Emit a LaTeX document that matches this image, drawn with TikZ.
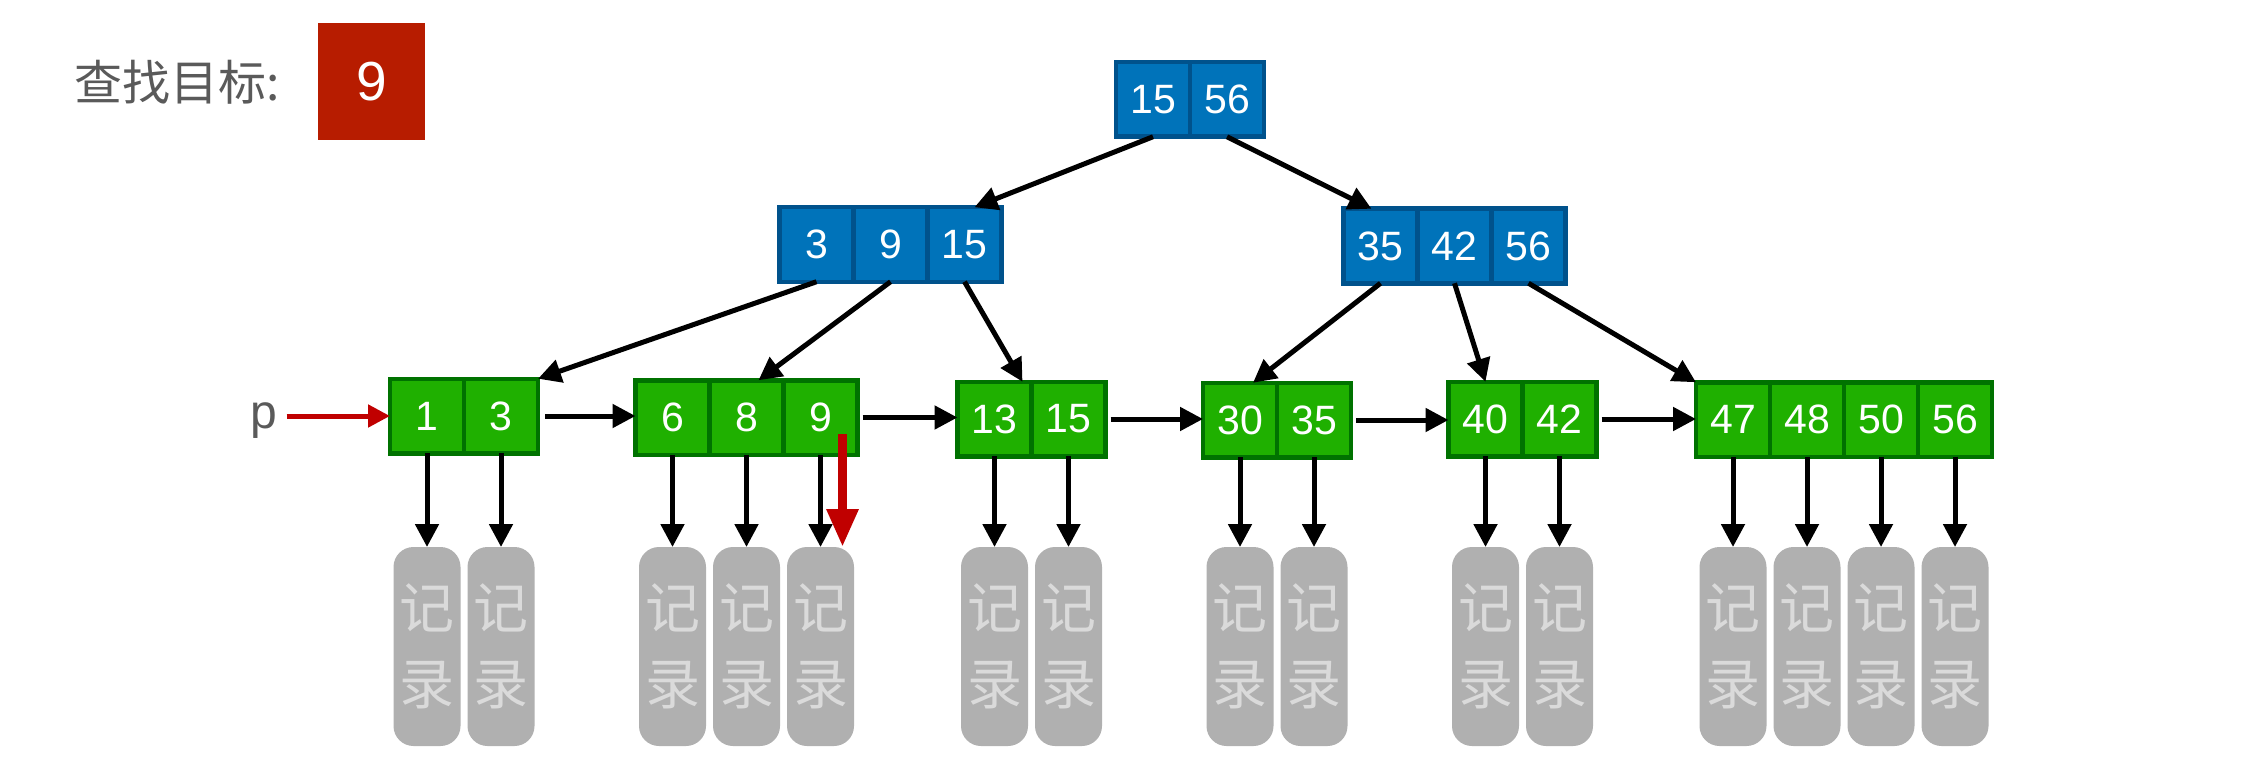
\documentclass[tikz,border=0pt]{standalone}
\usepackage{fontspec}
\setmainfont{Liberation Sans}
\newfontfamily\cjk{Noto Sans CJK SC}
\usetikzlibrary{arrows.meta,calc}
\definecolor{bfill}{HTML}{0073BA}
\definecolor{bdark}{HTML}{00528C}
\definecolor{gfill}{HTML}{1FB000}
\definecolor{gdark}{HTML}{007200}
\definecolor{recfill}{HTML}{B0B0B0}
\definecolor{rectext}{HTML}{DADADA}
\definecolor{redbox}{HTML}{B71C00}
\definecolor{redarr}{HTML}{C00000}
\definecolor{titlegray}{HTML}{5A5A5A}
\begin{document}
\begin{tikzpicture}[x=1pt,y=-1pt,
  cell/.style={line width=4.5pt, minimum width=74pt, minimum height=74.5pt, inner sep=0pt, outer sep=0pt, text=white, font=\fontsize{41}{41}\selectfont},
  bcell/.style={cell, draw=bdark, fill=bfill},
  gcell/.style={cell, draw=gdark, fill=gfill},
  rec/.style={fill=recfill, rounded corners=20pt, minimum width=67pt, minimum height=199pt, inner sep=0pt, outer sep=0pt, text=rectext, align=center, anchor=north, font=\cjk\fontsize{55}{76}\selectfont},
  link/.style={line width=5pt, -{Triangle[length=23pt,width=23pt]}},
  plink/.style={link, draw=redarr, -{Triangle[length=22pt,width=22pt]}},
  redlink/.style={line width=9pt, draw=redarr, -{Triangle[length=38pt,width=30pt]}}
]
\useasboundingbox (0,0) rectangle (2246,778);
\fill[white] (0,0) rectangle (2246,778);

% title
\node[anchor=west, inner sep=0pt, text=titlegray, font=\cjk\fontsize{48}{48}\selectfont] (title) at (74,82) {查找目标:};
\node[fill=redbox, minimum width=107pt, minimum height=117pt, inner sep=0pt, text=white, font=\fontsize{55}{55}\selectfont] (target) at (371.5,81.5) {9};

% root
\node[bcell] (r1) at (1153,99.5) {15};
\node[bcell, anchor=west] (r2) at (r1.east) {56};

% internal nodes
\node[bcell] (l1) at (816.5,244.5) {3};
\node[bcell, anchor=west] (l2) at (l1.east) {9};
\node[bcell, anchor=west] (l3) at (l2.east) {15};

\node[bcell] (q1) at (1380.5,246) {35};
\node[bcell, anchor=west] (q2) at (q1.east) {42};
\node[bcell, anchor=west] (q3) at (q2.east) {56};

% leaves
\node[gcell] (a1) at (427,416) {1};
\node[gcell, anchor=west] (a2) at (a1.east) {3};

\node[gcell] (b1) at (672.5,417.5) {6};
\node[gcell, anchor=west] (b2) at (b1.east) {8};
\node[gcell, anchor=west] (b3) at (b2.east) {9};

\node[gcell] (d1) at (994.5,419) {13};
\node[gcell, anchor=west] (d2) at (d1.east) {15};

\node[gcell] (e1) at (1240,420) {30};
\node[gcell, anchor=west] (e2) at (e1.east) {35};

\node[gcell] (f1) at (1485.5,419) {40};
\node[gcell, anchor=west] (f2) at (f1.east) {42};

\node[gcell] (g1) at (1733,419.5) {47};
\node[gcell, anchor=west] (g2) at (g1.east) {48};
\node[gcell, anchor=west] (g3) at (g2.east) {50};
\node[gcell, anchor=west] (g4) at (g3.east) {56};

% records
\coordinate (rt) at (0,547);
\foreach \c in {a1,a2,b1,b2,b3,d1,d2,e1,e2,f1,f2,g1,g2,g3,g4}{
  \node[rec] (k\c) at (\c |- rt) {记\\录};
  \draw[link] (\c.south) -- (k\c.north);
}

% tree edges
\draw[link] (r1.south) -- ($(l3.north)+(10,0)$);
\draw[link] (r2.south) -- ($(q1.north)+(-9,0)$);
\draw[link] (l1.south) -- (a2.north east);
\draw[link] (l2.south) -- ($(b2.north)+(12,0)$);
\draw[link] (l3.south) -- ($(d1.north)+(28,0)$);
\draw[link] (q1.south) -- ($(e1.north)+(13,0)$);
\draw[link] (q2.south) -- (f1.north);
\draw[link] (q3.south) -- (g1.north west);

% leaf chain (horizontal)
\draw[link] ($(a2.east)+(7,0)$) -- (b1.west |- a2.east);
\draw[link] ($(b3.east)+(5,0)$) -- (d1.west |- b3.east);
\draw[link] ($(d2.east)+(5,0)$) -- (e1.west |- d2.east);
\draw[link] ($(e2.east)+(5,0)$) -- (f1.west |- e2.east);
\draw[link] ($(f2.east)+(5,0)$) -- (g1.west |- f2.east);

% pointer p
\node[anchor=base, inner sep=0pt, text=titlegray, font=\fontsize{48}{48}\selectfont] (p) at (264,428) {p};
\draw[plink] ($(p.east |- a1.west)+(9,0)$) -- (a1.west);

% search path
\draw[redlink] ($(b3.south)+(22,-21)$) -- ($(kb3.north)+(22,0)$);
\end{tikzpicture}
\end{document}
